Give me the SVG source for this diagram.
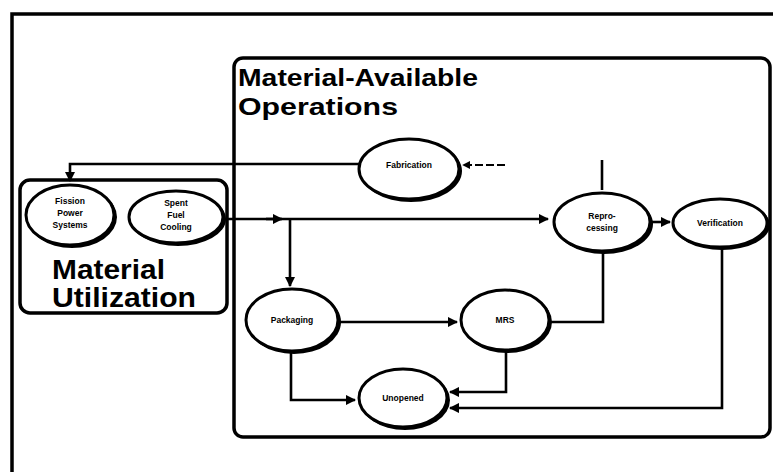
<svg xmlns="http://www.w3.org/2000/svg" width="773" height="472" viewBox="0 0 773 472">
<defs>
<style>
.frame{fill:none;stroke:#000;stroke-width:3.5}
.box{fill:none;stroke:#000;stroke-width:3.5}
.sh{fill:#000}
.el{fill:#fff;stroke:#000;stroke-width:3}
.c{fill:none;stroke:#000;stroke-width:2.6}
.dash{fill:none;stroke:#000;stroke-width:2;stroke-dasharray:8 3}
.lbl{font-family:"Liberation Sans",Arial,sans-serif;font-weight:bold;font-size:8.5px;text-anchor:middle;fill:#000}
.big{font-family:"Liberation Sans",Arial,sans-serif;font-weight:bold;fill:#000}
</style>
<marker id="a" viewBox="0 0 10 10" refX="9" refY="5" markerWidth="4" markerHeight="4" orient="auto" markerUnits="strokeWidth">
<path d="M0,0 L10,5 L0,10 z" fill="#000"/>
</marker>
</defs>
<rect width="773" height="472" fill="#fff"/>
<path class="frame" d="M12,472 V14 H773"/>
<g id="material-available">
<rect class="box" x="234" y="58" width="536" height="379" rx="9"/>
<text class="big" font-size="24" x="238" y="86" textLength="240" lengthAdjust="spacingAndGlyphs">Material-Available</text>
<text class="big" font-size="24" x="238" y="115" textLength="160" lengthAdjust="spacingAndGlyphs">Operations</text>
</g>
<g id="material-utilization">
<rect class="box" x="20" y="180" width="207" height="133" rx="10"/>
<text class="big" font-size="28" x="52" y="279" textLength="113" lengthAdjust="spacingAndGlyphs">Material</text>
<text class="big" font-size="28" x="52" y="307" textLength="144" lengthAdjust="spacingAndGlyphs">Utilization</text>
</g>
<g id="connectors">
<path class="c" d="M360,164 H70 V181" marker-end="url(#a)"/>
<path class="dash" d="M505,165 H463" marker-end="url(#a)"/>
<path class="c" d="M602,160 V190"/>
<path class="c" d="M224,219 H548" marker-end="url(#a)"/>
<path class="c" d="M266,219 H282" marker-end="url(#a)"/>
<path class="c" d="M290,219 V286" marker-end="url(#a)"/>
<path class="c" d="M652,222 H670" marker-end="url(#a)"/>
<path class="c" d="M340,322 H457" marker-end="url(#a)"/>
<path class="c" d="M603,252 V322 H551"/>
<path class="c" d="M291,352 V400 H355" marker-end="url(#a)"/>
<path class="c" d="M506,350 V392 H450" marker-end="url(#a)"/>
<path class="c" d="M722,248 V408 H450" marker-end="url(#a)"/>
</g>
<g id="fission">
<ellipse class="sh" cx="72" cy="217" rx="45" ry="31"/>
<ellipse class="el" cx="70" cy="215" rx="44" ry="30"/>
<text class="lbl" x="70" y="204">Fission</text>
<text class="lbl" x="70" y="216">Power</text>
<text class="lbl" x="70" y="228">Systems</text>
</g>
<g id="spent-fuel">
<ellipse class="sh" cx="178" cy="219" rx="48" ry="27"/>
<ellipse class="el" cx="176" cy="217" rx="47" ry="26"/>
<text class="lbl" x="176" y="206">Spent</text>
<text class="lbl" x="176" y="218">Fuel</text>
<text class="lbl" x="176" y="230">Cooling</text>
</g>
<g id="fabrication">
<ellipse class="sh" cx="411" cy="171" rx="51" ry="31"/>
<ellipse class="el" cx="409" cy="169" rx="50" ry="30"/>
<text class="lbl" x="409" y="168">Fabrication</text>
</g>
<g id="reprocessing">
<ellipse class="sh" cx="604" cy="224" rx="49" ry="30"/>
<ellipse class="el" cx="602" cy="222" rx="48" ry="29"/>
<text class="lbl" x="602" y="219">Repro-</text>
<text class="lbl" x="602" y="231">cessing</text>
</g>
<g id="verification">
<ellipse class="sh" cx="722" cy="225" rx="48" ry="25"/>
<ellipse class="el" cx="720" cy="223" rx="47" ry="24"/>
<text class="lbl" x="720" y="226">Verification</text>
</g>
<g id="packaging">
<ellipse class="sh" cx="294" cy="322" rx="47" ry="32"/>
<ellipse class="el" cx="292" cy="320" rx="46" ry="31"/>
<text class="lbl" x="292" y="323">Packaging</text>
</g>
<g id="mrs">
<ellipse class="sh" cx="507" cy="322" rx="45" ry="31"/>
<ellipse class="el" cx="505" cy="320" rx="44" ry="30"/>
<text class="lbl" x="505" y="323">MRS</text>
</g>
<g id="unopened">
<ellipse class="sh" cx="405" cy="400" rx="45" ry="30"/>
<ellipse class="el" cx="403" cy="398" rx="44" ry="29"/>
<text class="lbl" x="403" y="401">Unopened</text>
</g>
</svg>
